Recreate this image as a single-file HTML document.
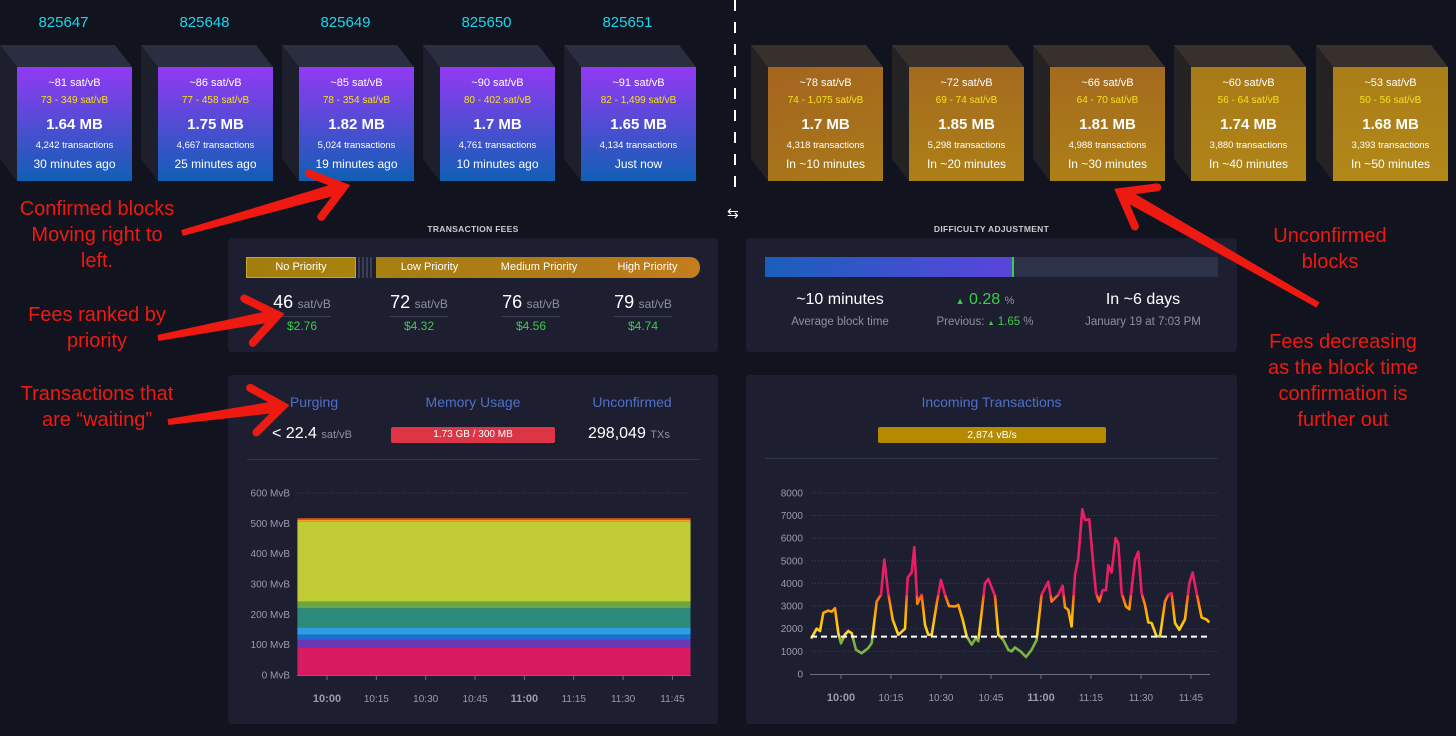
<!DOCTYPE html>
<html><head><meta charset="utf-8">
<style>
*{box-sizing:border-box;margin:0;padding:0}
body{width:1456px;height:736px;background:#11131e;font-family:"Liberation Sans",sans-serif;overflow:hidden;position:relative;color:#fff}
.abs{position:absolute}
.hgt{position:absolute;top:14px;width:115px;text-align:center;font-size:15px;color:#1bd6ef}
.blk{position:absolute;top:67px;width:115px;height:114px;text-align:center}
.blk .a{position:absolute;top:10px;width:100%;font-size:11px}
.blk .b{position:absolute;top:28px;width:100%;font-size:10px;color:#f6e21c}
.blk .c{position:absolute;top:49px;width:100%;font-size:15px;font-weight:bold}
.blk .d{position:absolute;top:73px;width:100%;font-size:9.5px}
.blk .e{position:absolute;top:90px;width:100%;font-size:12px}
.conf{background:linear-gradient(#9339f4,#105fb4)}
.unc{background:linear-gradient(#a56a1e,#ad8017)}
.panel{position:absolute;background:#1d1f31;border-radius:4px}
.ptitle{position:absolute;font-size:8.5px;font-weight:bold;color:#ccc;letter-spacing:.3px;text-align:center}
.ann{position:absolute;color:#ee1a12;font-size:20px;text-align:center;line-height:26px}
.fee{position:absolute;top:292px;width:120px;text-align:center}
.fee .v{font-size:18px;color:#fff}
.fee .u{font-size:12px;color:#8d90a0}
.fee .l{width:58px;height:1px;background:#3b3f55;margin:3px auto 2px}
.fee .d{font-size:12px;color:#3bcc49}
.gray{color:#8d90a0}
.blue{color:#4f6fc6}
</style></head><body>
<svg class="abs" style="left:0;top:0" width="1456" height="736" id="bg"></svg>

<div class="hgt" style="left:6px">825647</div>
<div class="hgt" style="left:147px">825648</div>
<div class="hgt" style="left:288px">825649</div>
<div class="hgt" style="left:429px">825650</div>
<div class="hgt" style="left:570px">825651</div>

<div class="blk conf" style="left:17px"><div class="a">~81 sat/vB</div><div class="b">73 - 349 sat/vB</div><div class="c">1.64 MB</div><div class="d">4,242 transactions</div><div class="e">30 minutes ago</div></div>
<div class="blk conf" style="left:158px"><div class="a">~86 sat/vB</div><div class="b">77 - 458 sat/vB</div><div class="c">1.75 MB</div><div class="d">4,667 transactions</div><div class="e">25 minutes ago</div></div>
<div class="blk conf" style="left:299px"><div class="a">~85 sat/vB</div><div class="b">78 - 354 sat/vB</div><div class="c">1.82 MB</div><div class="d">5,024 transactions</div><div class="e">19 minutes ago</div></div>
<div class="blk conf" style="left:440px"><div class="a">~90 sat/vB</div><div class="b">80 - 402 sat/vB</div><div class="c">1.7 MB</div><div class="d">4,761 transactions</div><div class="e">10 minutes ago</div></div>
<div class="blk conf" style="left:581px"><div class="a">~91 sat/vB</div><div class="b">82 - 1,499 sat/vB</div><div class="c">1.65 MB</div><div class="d">4,134 transactions</div><div class="e">Just now</div></div>

<div class="blk unc" style="left:768px;background:linear-gradient(160deg,#a5641f,#a87a19)"><div class="a">~78 sat/vB</div><div class="b">74 - 1,075 sat/vB</div><div class="c">1.7 MB</div><div class="d">4,318 transactions</div><div class="e">In ~10 minutes</div></div>
<div class="blk unc" style="left:909px"><div class="a">~72 sat/vB</div><div class="b">69 - 74 sat/vB</div><div class="c">1.85 MB</div><div class="d">5,298 transactions</div><div class="e">In ~20 minutes</div></div>
<div class="blk unc" style="left:1050px"><div class="a">~66 sat/vB</div><div class="b">64 - 70 sat/vB</div><div class="c">1.81 MB</div><div class="d">4,988 transactions</div><div class="e">In ~30 minutes</div></div>
<div class="blk unc" style="left:1191px;background:linear-gradient(#a87a18,#b08518)"><div class="a">~60 sat/vB</div><div class="b">56 - 64 sat/vB</div><div class="c">1.74 MB</div><div class="d">3,880 transactions</div><div class="e">In ~40 minutes</div></div>
<div class="blk unc" style="left:1333px;background:linear-gradient(#aa7d18,#b28818)"><div class="a">~53 sat/vB</div><div class="b">50 - 56 sat/vB</div><div class="c">1.68 MB</div><div class="d">3,393 transactions</div><div class="e">In ~50 minutes</div></div>

<div class="abs" style="left:734px;top:0;width:2px;height:192px;background:repeating-linear-gradient(#fff 0 11px,transparent 11px 22px)"></div>
<div class="abs" style="left:727px;top:205px;font-size:14px;color:#fff">⇆</div>

<div class="ptitle" style="left:228px;width:490px;top:224px">TRANSACTION FEES</div>
<div class="ptitle" style="left:746px;width:491px;top:224px">DIFFICULTY ADJUSTMENT</div>
<div class="panel" style="left:228px;top:238px;width:490px;height:114px"></div>
<div class="panel" style="left:746px;top:238px;width:491px;height:114px"></div>
<div class="panel" style="left:228px;top:375px;width:490px;height:349px"></div>
<div class="panel" style="left:746px;top:375px;width:491px;height:349px"></div>

<div class="abs" style="left:246px;top:257px;width:110px;height:21px;background:linear-gradient(90deg,#a27e0e,#a9820f);border:1px solid #c9a530;font-size:11px;text-align:center;line-height:19px">No Priority</div>
<div class="abs" style="left:358px;top:257px;width:16px;height:21px;background:repeating-linear-gradient(90deg,#3a3f58 0 2px,#1d1f31 2px 4px)"></div>
<div class="abs" style="left:376px;top:257px;width:324px;height:21px;background:linear-gradient(90deg,#a68010,#b07a18 60%,#c57d1c);border-radius:0 10px 10px 0;font-size:11px;line-height:21px">
<span class="abs" style="left:0;width:107px;text-align:center">Low Priority</span><span class="abs" style="left:107px;width:112px;text-align:center">Medium Priority</span><span class="abs" style="left:219px;width:105px;text-align:center">High Priority</span></div>
<div class="fee" style="left:242px"><span class="v">46</span> <span class="u">sat/vB</span><div class="l"></div><div class="d">$2.76</div></div>
<div class="fee" style="left:359px"><span class="v">72</span> <span class="u">sat/vB</span><div class="l"></div><div class="d">$4.32</div></div>
<div class="fee" style="left:471px"><span class="v">76</span> <span class="u">sat/vB</span><div class="l"></div><div class="d">$4.56</div></div>
<div class="fee" style="left:583px"><span class="v">79</span> <span class="u">sat/vB</span><div class="l"></div><div class="d">$4.74</div></div>

<div class="abs" style="left:765px;top:257px;width:453px;height:20px;background:#2d3249"></div>
<div class="abs" style="left:765px;top:257px;width:249px;height:20px;background:linear-gradient(90deg,#1a5fbb,#5a45dc);border-right:2px solid #3bcc49"></div>
<div class="abs" style="left:765px;top:291px;width:150px;text-align:center"><div style="font-size:16px">~10 minutes</div><div class="gray" style="font-size:11.5px;margin-top:7px">Average block time</div></div>
<div class="abs" style="left:910px;top:291px;width:150px;text-align:center"><div style="font-size:16px;color:#3bcc49"><span style="font-size:9px">▲</span> 0.28 <span class="gray" style="font-size:11px">%</span></div><div class="gray" style="font-size:11.5px;margin-top:7px">Previous: <span style="color:#3bcc49"><span style="font-size:7px">▲</span> 1.65</span> %</div></div>
<div class="abs" style="left:1063px;top:291px;width:160px;text-align:center"><div style="font-size:16px">In ~6 days</div><div class="gray" style="font-size:11.5px;margin-top:7px">January 19 at 7:03 PM</div></div>

<div class="abs blue" style="left:254px;top:394px;width:120px;text-align:center;font-size:14px">Purging</div>
<div class="abs blue" style="left:403px;top:394px;width:140px;text-align:center;font-size:14px">Memory Usage</div>
<div class="abs blue" style="left:572px;top:394px;width:120px;text-align:center;font-size:14px">Unconfirmed</div>
<div class="abs" style="left:272px;top:425px;font-size:16px">&lt; 22.4 <span class="gray" style="font-size:11px">sat/vB</span></div>
<div class="abs" style="left:391px;top:427px;width:164px;height:16px;background:#dc3545;border-radius:2px;font-size:10px;text-align:center;line-height:16px">1.73 GB / 300 MB</div>
<div class="abs" style="left:588px;top:425px;font-size:16px">298,049 <span class="gray" style="font-size:11px">TXs</span></div>
<div class="abs" style="left:247px;top:459px;width:453px;height:1px;background:#30344a"></div>

<div class="abs blue" style="left:746px;top:394px;width:491px;text-align:center;font-size:14px">Incoming Transactions</div>
<div class="abs" style="left:878px;top:427px;width:228px;height:16px;background:#b38a00;border-radius:2px;font-size:10.5px;text-align:center;line-height:16px">2,874 vB/s</div>
<div class="abs" style="left:765px;top:458px;width:453px;height:1px;background:#30344a"></div>

<svg class="abs" style="left:0;top:0" width="1456" height="736" id="charts"></svg>

<div class="ann" style="left:-3px;top:196px;width:200px">Confirmed blocks<br>Moving right to<br>left.</div>
<div class="ann" style="left:-3px;top:302px;width:200px">Fees ranked by<br>priority</div>
<div class="ann" style="left:-3px;top:381px;width:200px">Transactions that<br>are “waiting”</div>
<div class="ann" style="left:1230px;top:223px;width:200px">Unconfirmed<br>blocks</div>
<div class="ann" style="left:1240px;top:329px;width:206px">Fees decreasing<br>as the block time<br>confirmation is<br>further out</div>

<script>
const memTimes = [-9, 0, 30, 60, 90, 110.5];
const memPink = [89, 89, 89, 89, 89, 89];
const memPurple = [28, 28, 28, 28, 28, 28];
const memBlue = [16, 16, 16, 16, 16, 16];
const memLightBlue = [24, 24, 24, 24, 24, 24];
const memTeal = [63, 63, 63, 63, 63, 63];
const memGreen = [22, 22, 22, 22, 22, 22];
const memYellow = [265, 265, 265, 265, 265, 265];
const memOrange = [5, 5, 5, 5, 5, 5];
const memRed = [5, 5, 5, 5, 5, 5];
const memYTicks = [0, 100, 200, 300, 400, 500, 600];
const timeTicks = [0, 15, 30, 45, 60, 75, 90, 105];
const timeTickLabels = ["10:00","10:15","10:30","10:45","11:00","11:15","11:30","11:45"];

const inMinutes = [-9,-7.3,-6.3,-5.3,-3.8,-2.8,-1.8,-0.8,0,1.2,2.2,3.2,4.5,6.2,8.2,9.2,10.7,12,13,14.2,15.5,17.2,19.2,20,21.2,22,22.9,24.2,25.2,26.2,27.2,28.7,30,31.2,32.4,34.2,35.2,36.5,37.7,39.2,40.5,41.2,43.2,44.2,46.2,47.2,48.7,50.2,51.2,52.2,53.9,55.5,57.2,58.7,60.2,62.2,63.2,65.2,66.5,67.2,68.2,69.2,70.2,71.2,72.4,73.2,74.5,75.7,76.5,77.5,78.5,79.5,80.2,81.2,82.4,83.2,84.2,85.5,86.5,88.2,89.2,90.2,91.2,92.2,93.2,94.7,95.7,97.2,98.2,99.2,100.2,101.5,103.2,104.5,105.5,106.7,108.2,109.7,110.5];
const inValues = [1560,2000,1900,2700,2800,2750,2900,1800,1350,1750,1900,1800,1070,920,1150,1370,3200,3500,5050,3550,2400,1730,2000,4250,4500,5600,3100,3500,2170,1730,1730,3100,4150,3500,3000,2980,3050,2400,1660,1300,1600,1450,4000,4200,3450,1730,1500,1070,1000,1170,1000,750,1070,1500,3500,4080,3200,3500,3900,2950,2830,2100,4380,5100,7270,6800,6830,4800,3570,3200,3700,3700,4800,4480,6000,5770,3570,2980,2860,5040,5400,3570,3050,2280,2250,1660,1660,3200,3500,3570,2250,1950,2420,4000,4480,3570,2500,2400,2280];
const inThreshold = 1650;
const inYTicks = [0,1000,2000,3000,4000,5000,6000,7000,8000];

const NS='http://www.w3.org/2000/svg';
function mk(parent, tag, attrs){const e=document.createElementNS(NS,tag);for(const k in attrs)e.setAttribute(k,attrs[k]);parent.appendChild(e);return e;}

const bg=document.getElementById('bg');
const confX=[17,158,299,440,581], uncX=[768,909,1050,1191,1333];
confX.forEach((x,i)=>{
  const s=mk(bg,'polygon',{points:`${x-17},45 ${x},67 ${x},181 ${x-17},159`,fill:'#1d1f2c'});
  
  
  const t=mk(bg,'polygon',{points:`${x-17},45 ${x+98},45 ${x+115},67 ${x},67`,fill:'#2b2e40'});
  
  
});
uncX.forEach((x,i)=>{
  const s=mk(bg,'polygon',{points:`${x-17},45 ${x},67 ${x},181 ${x-17},159`,fill:'#242222'});
  
  
  const t=mk(bg,'polygon',{points:`${x-17},45 ${x+98},45 ${x+115},67 ${x},67`,fill:'#38302d'});
  
  
});

const svg=document.getElementById('charts');
const mx=m=>327+m*3.29, my=v=>675-v*0.3033;
const mg=mk(svg,'g',{});


memYTicks.forEach(v=>{
  const t=mk(mg,'text',{x:290,y:my(v)+3.5,'text-anchor':'end','font-size':10,fill:'#9a9cab'});t.textContent=v+' MvB';
  
  
});
mk(mg,'line',{x1:297,x2:691,y1:my(600),y2:my(600),stroke:'#3a3d52','stroke-dasharray':'1 2'});
const layers=[[memPink,'#d81b60'],[memPurple,'#6a38b4'],[memBlue,'#1f6fd3'],[memLightBlue,'#2b9de6'],[memTeal,'#2a8a7c'],[memGreen,'#6aa643'],[memYellow,'#c1cc34'],[memOrange,'#f0a020'],[memRed,'#e8541e']];
let base=memTimes.map(()=>0);
layers.forEach(([vals,col])=>{
  const top=base.map((b,i)=>b+vals[i]);
  let pts=memTimes.map((t,i)=>`${mx(t)},${my(top[i])}`).concat(memTimes.map((t,i)=>`${mx(t)},${my(base[i])}`).reverse());
  const p=mk(mg,'polygon',{points:pts.join(' '),fill:col});
  
  
  base=top;
});
mk(mg,'line',{x1:297,x2:691,y1:675.5,y2:675.5,stroke:'#6b6e80'});
timeTicks.forEach((t,i)=>{
  mk(mg,'line',{x1:mx(t),x2:mx(t),y1:676,y2:680,stroke:'#6b6e80'});
  const b=timeTickLabels[i].endsWith(':00');
  const l=mk(mg,'text',{x:mx(t),y:702,'text-anchor':'middle','font-size':b?11:10,'font-weight':b?'bold':'normal',fill:'#9a9cab'});l.textContent=timeTickLabels[i];
  
  
});

const ix=m=>841+m*3.333, iy=v=>674-v*0.02265;
const ig=mk(svg,'g',{});


const defs=mk(ig,'defs',{});
const gr=mk(defs,'linearGradient',{id:'lg',gradientUnits:'userSpaceOnUse',x1:0,x2:0,y1:iy(0),y2:iy(8000)});
[[1500,'#7cb342'],[1700,'#fdd835'],[2300,'#ffc107'],[3000,'#ff9800'],[3450,'#ff5722'],[3500,'#e91e63'],[8000,'#e91e63']].forEach(([v,c])=>mk(gr,'stop',{offset:(v/8000).toFixed(4),'stop-color':c}));
inYTicks.forEach(v=>{
  if(v>0) mk(ig,'line',{x1:812,x2:1218,y1:iy(v),y2:iy(v),stroke:'#3a3d52','stroke-dasharray':'1 2'});
  const t=mk(ig,'text',{x:803,y:iy(v)+3.5,'text-anchor':'end','font-size':10,fill:'#9a9cab'});t.textContent=v;
  
  
});
mk(ig,'line',{x1:810,x2:1210,y1:674.5,y2:674.5,stroke:'#6b6e80'});
timeTicks.forEach((t,i)=>{
  mk(ig,'line',{x1:ix(t),x2:ix(t),y1:675,y2:679,stroke:'#6b6e80'});
  const b=timeTickLabels[i].endsWith(':00');
  const l=mk(ig,'text',{x:ix(t),y:701,'text-anchor':'middle','font-size':b?11:10,'font-weight':b?'bold':'normal',fill:'#9a9cab'});l.textContent=timeTickLabels[i];
  
  
});
const line=mk(ig,'polyline',{points:inMinutes.map((m,i)=>`${ix(m).toFixed(1)},${iy(inValues[i]).toFixed(1)}`).join(' '),fill:'none',stroke:'url(#lg)','stroke-width':2.6,'stroke-linejoin':'round'});


const th=mk(ig,'line',{x1:ix(inMinutes[0]),x2:ix(inMinutes[inMinutes.length-1]),y1:iy(inThreshold),y2:iy(inThreshold),stroke:'#fff','stroke-width':2,'stroke-dasharray':'6 4'});



function arrow(x1,y1,x2,y2,name){
  const g=mk(svg,'g',{});
  
  
  const dx=x2-x1,dy=y2-y1,L=Math.hypot(dx,dy),ux=dx/L,uy=dy/L,nx=-uy,ny=ux;
  const w1=3,w2=6;
  mk(g,'polygon',{points:`${x1+nx*w1},${y1+ny*w1} ${x2-ux*4+nx*w2},${y2-uy*4+ny*w2} ${x2-ux*4-nx*w2},${y2-uy*4-ny*w2} ${x1-nx*w1},${y1-ny*w1}`,fill:'#ee1a12'});
  const h=30;
  mk(g,'polyline',{points:`${x2-ux*h+nx*h*0.75},${y2-uy*h+ny*h*0.75} ${x2},${y2} ${x2-ux*h-nx*h*0.75},${y2-uy*h-ny*h*0.75}`,fill:'none',stroke:'#ee1a12','stroke-width':8,'stroke-linecap':'round','stroke-linejoin':'miter'});
}
arrow(182,233,344,187,'arrow-confirmed-blocks');
arrow(158,338,278,315,'arrow-fees');
arrow(168,422,283,406,'arrow-waiting');
arrow(1318,305,1120,192,'arrow-unconfirmed');
</script>
</body></html>
